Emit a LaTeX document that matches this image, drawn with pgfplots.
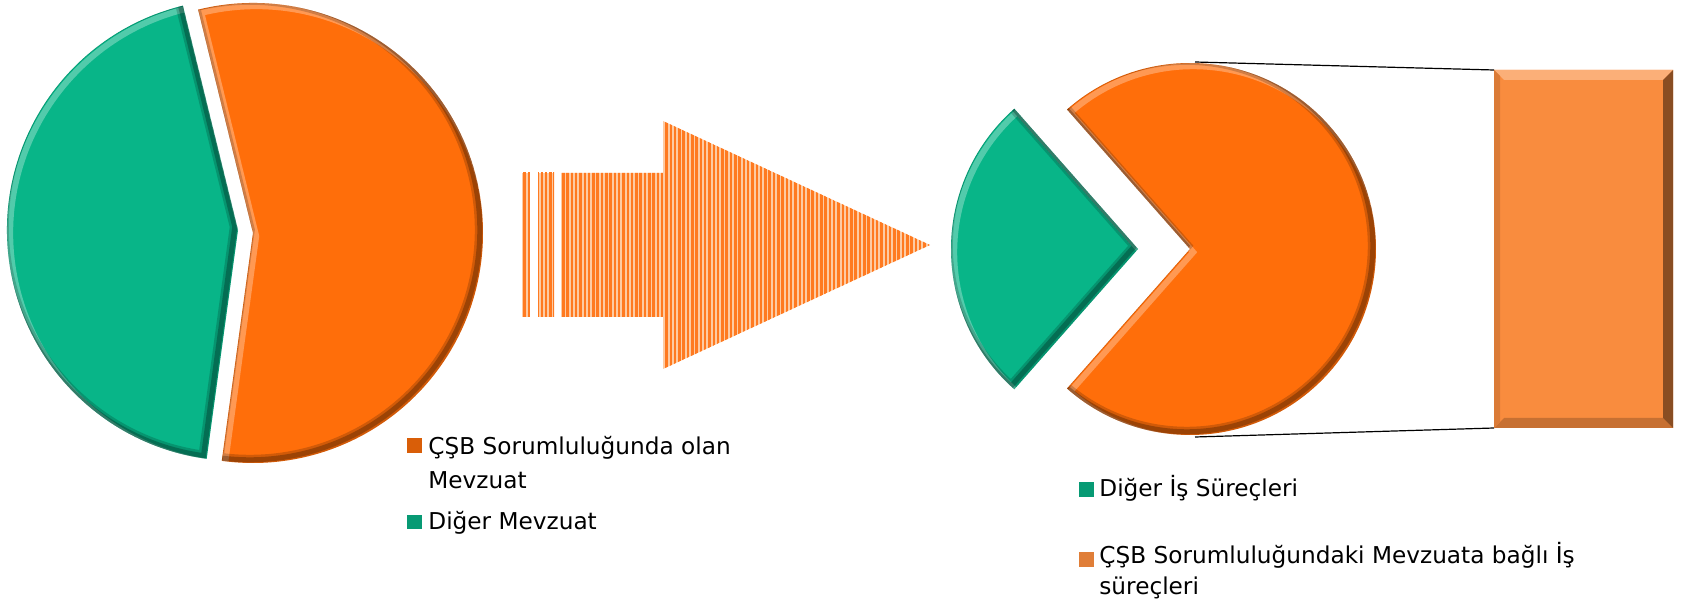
\documentclass[border=0pt]{standalone}
\usepackage{pgfplots}
\pgfplotsset{compat=1.18}
\usepackage{fontspec}
\setmainfont{DejaVu Sans}
\usetikzlibrary{patterns.meta}
\definecolor{pieOrange}{HTML}{FF6E0A}
\definecolor{pieGreen}{HTML}{08B588}
\definecolor{barOrange}{HTML}{F98C3E}
\definecolor{arrowLight}{HTML}{FDCBA3}
\definecolor{arrowDark}{HTML}{FF7A20}
\newcommand\fs{\fontsize{11.6pt}{14pt}\selectfont}
% pie values (percent)
\def\LeftOrange{56}\def\LeftGreen{44}
\def\RightGreen{27}\def\RightOrange{73}
% one pie slice with a bevel: cx, cy (axis px), radius, start, end, colour
\newcommand\slice[6]{%
  \fill[#6] (axis cs:#1,#2) -- ++(#4:#3) arc[start angle=#4,end angle=#5,radius=#3] -- cycle;
  \begin{scope}
    \clip (axis cs:#1,#2) -- ++(#4:#3) arc[start angle=#4,end angle=#5,radius=#3] -- cycle;
    \draw[white,opacity=0.3,line width=3pt,shift={(1.6pt,-1.6pt)}]
      (axis cs:#1,#2) -- ++(#4:#3) arc[start angle=#4,end angle=#5,radius=#3] -- cycle;
    \draw[black,opacity=0.18,line width=5pt,shift={(-1.6pt,1.6pt)}]
      (axis cs:#1,#2) -- ++(#4:#3) arc[start angle=#4,end angle=#5,radius=#3] -- cycle;
    \draw[black,opacity=0.25,line width=2.5pt,shift={(-1.6pt,1.6pt)}]
      (axis cs:#1,#2) -- ++(#4:#3) arc[start angle=#4,end angle=#5,radius=#3] -- cycle;
  \end{scope}}
\begin{document}
\begin{tikzpicture}
\pgfmathsetmacro\La{103.8}
\pgfmathsetmacro\Lb{\La-3.6*\LeftOrange}
\pgfmathsetmacro\Lc{\Lb+360}
\pgfmathsetmacro\Ra{180-1.8*\RightGreen}
\pgfmathsetmacro\Rb{180+1.8*\RightGreen}
\pgfmathsetmacro\Rc{-\Ra}
\path[use as bounding box] (0,0) rectangle (847pt,302pt);
\begin{axis}[at={(0,0)},anchor=south west,scale only axis,width=847pt,height=302pt,
  xmin=0,xmax=1694,ymin=0,ymax=604,y dir=reverse,hide axis,clip=false]
% left pie
\slice{253}{233}{115pt}{\La}{\Lb}{pieOrange}
\slice{238}{230}{115.5pt}{\La}{\Lc}{pieGreen}
% arrow
\fill[arrowLight] (axis cs:522,173) rectangle (axis cs:530,317);
\fill[arrowLight] (axis cs:538,173) rectangle (axis cs:554,317);
\fill[arrowLight] (axis cs:561,173) -- (axis cs:663,173) -- (axis cs:663,121) -- (axis cs:930,245)
  -- (axis cs:663,369) -- (axis cs:663,317) -- (axis cs:561,317) -- cycle;
\fill[pattern={Lines[angle=90,distance=2.15pt,line width=1.25pt]},pattern color=arrowDark]
  (axis cs:522,173) rectangle (axis cs:530,317);
\fill[pattern={Lines[angle=90,distance=2.15pt,line width=1.25pt]},pattern color=arrowDark]
  (axis cs:538,173) rectangle (axis cs:554,317);
\fill[pattern={Lines[angle=90,distance=2.15pt,line width=1.25pt]},pattern color=arrowDark]
  (axis cs:561,173) -- (axis cs:663,173) -- (axis cs:663,121) -- (axis cs:930,245)
  -- (axis cs:663,369) -- (axis cs:663,317) -- (axis cs:561,317) -- cycle;
% right pie
\slice{1138}{249}{93.5pt}{\Ra}{\Rb}{pieGreen}
\slice{1190}{249}{93pt}{\Ra}{\Rc}{pieOrange}
% connector lines
\draw[black,line width=0.6pt] (axis cs:1195,62) -- (axis cs:1494,70);
\draw[black,line width=0.6pt] (axis cs:1195,437) -- (axis cs:1494,428);
% bar of pie
\addplot[fill=barOrange,draw=none] coordinates {(1494,70) (1673,70) (1673,428) (1494,428) (1494,70)};
\addplot[fill=barOrange!70!white,draw=none] coordinates {(1494,70) (1673,70) (1663,80) (1504,80) (1494,70)};
\addplot[fill=barOrange!80!black,draw=none] coordinates {(1494,428) (1673,428) (1663,418) (1504,418) (1494,428)};
\addplot[fill=barOrange!55!black,draw=none] coordinates {(1673,70) (1673,428) (1663,418) (1663,80) (1673,70)};
\addplot[fill=barOrange!88!black,draw=none] coordinates {(1494,70) (1494,428) (1500,422) (1500,76) (1494,70)};
% legend markers
\fill[pieOrange!85!black] (axis cs:407,438) rectangle (axis cs:422,453);
\fill[pieGreen!85!black] (axis cs:407,515) rectangle (axis cs:422,529);
\fill[pieGreen!85!black] (axis cs:1079,482) rectangle (axis cs:1094,497);
\fill[barOrange!90!black] (axis cs:1079,552) rectangle (axis cs:1094,567);
% legend text
\node[anchor=base west,inner sep=0,font=\fs] at (axis cs:428,455) {ÇŞB Sorumluluğunda olan};
\node[anchor=base west,inner sep=0,font=\fs] at (axis cs:428,488) {Mevzuat};
\node[anchor=base west,inner sep=0,font=\fs] at (axis cs:428,530) {Diğer Mevzuat};
\node[anchor=base west,inner sep=0,font=\fs] at (axis cs:1099,496) {Diğer İş Süreçleri};
\node[anchor=base west,inner sep=0,font=\fs] at (axis cs:1099,563) {ÇŞB Sorumluluğundaki Mevzuata bağlı İş};
\node[anchor=base west,inner sep=0,font=\fs] at (axis cs:1099,595) {süreçleri};
\end{axis}
\end{tikzpicture}
\end{document}
